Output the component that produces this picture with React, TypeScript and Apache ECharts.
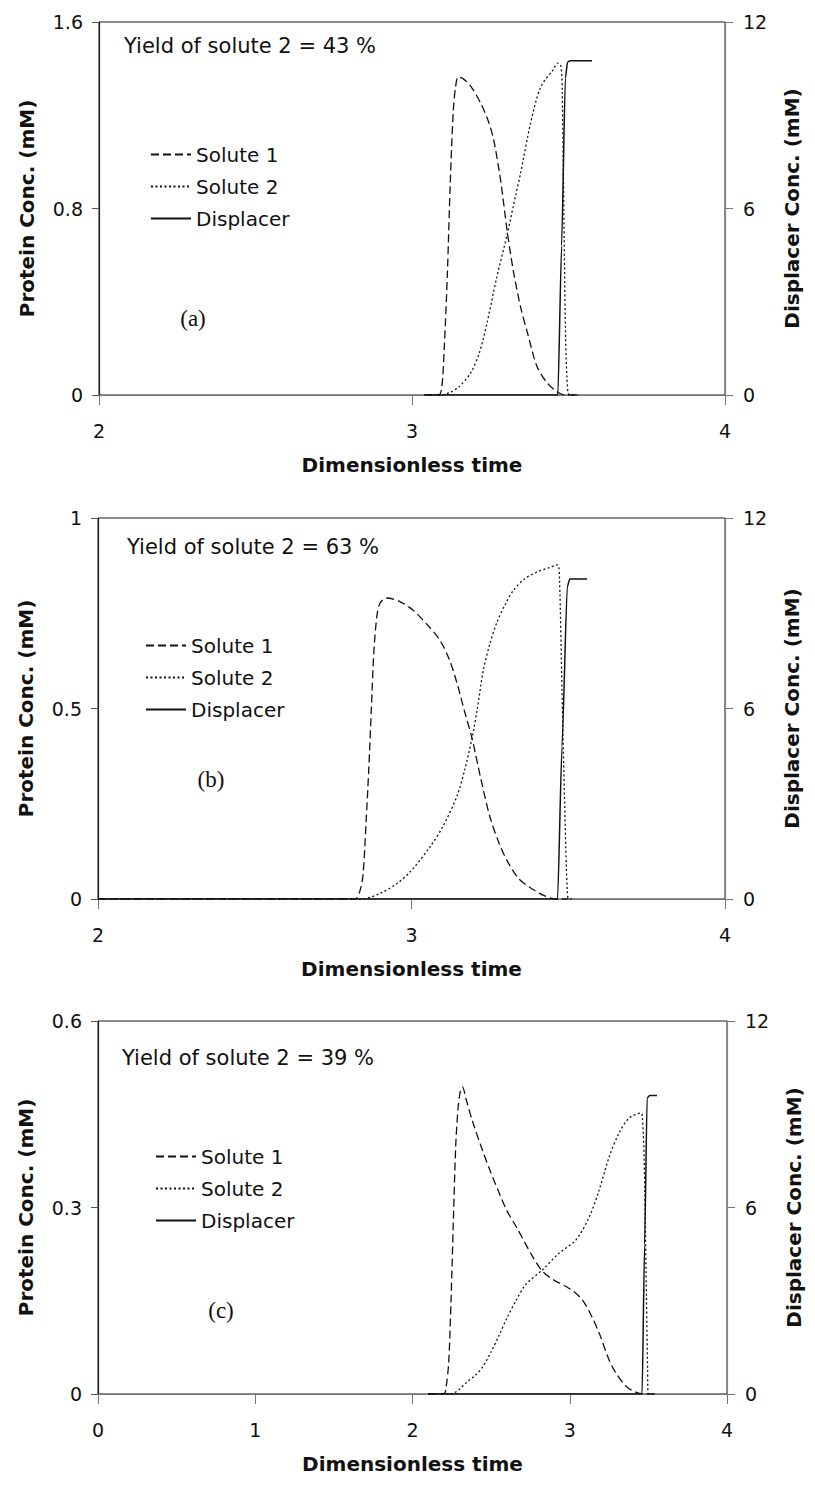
import React, { useEffect, useRef } from "react";
import * as echarts from "echarts";

// ---------- data ----------
const seriesNames = ["Solute 1", "Solute 2", "Displacer"];
const panelLabels = ["(a)", "(b)", "(c)"];
const yieldTexts = [
  "Yield of solute 2 = 43 %",
  "Yield of solute 2 = 63 %",
  "Yield of solute 2 = 39 %",
];
const xMins = [2, 2, 0];
const xMaxs = [4, 4, 4];
const xInterval = 1;
const proteinMaxs = [1.6, 1, 0.6];
const proteinIntervals = [0.8, 0.5, 0.3];
const displacerMax = 12;
const displacerInterval = 6;

// panel (a)  [dimensionless time, concentration]
const solute1A = [
  [3.04, 0], [3.085, 0], [3.095, 0.03], [3.103, 0.2], [3.113, 0.52], [3.122, 0.9],
  [3.132, 1.22], [3.14, 1.33], [3.148, 1.364], [3.165, 1.355], [3.19, 1.32],
  [3.22, 1.25], [3.245, 1.17], [3.261, 1.094], [3.283, 0.922], [3.305, 0.694],
  [3.325, 0.523], [3.347, 0.377], [3.369, 0.266], [3.4, 0.12], [3.433, 0.05],
  [3.466, 0.012], [3.49, 0], [3.53, 0],
];
const solute2A = [
  [3.04, 0], [3.09, 0], [3.12, 0.01], [3.15, 0.035], [3.187, 0.094], [3.215, 0.18],
  [3.24, 0.31], [3.27, 0.5], [3.305, 0.694], [3.33, 0.85], [3.347, 0.952],
  [3.379, 1.167], [3.411, 1.32], [3.45, 1.394], [3.466, 1.424], [3.476, 1.41],
  [3.48, 1.3], [3.485, 0.8], [3.49, 0.3], [3.495, 0.08], [3.503, 0], [3.53, 0],
];
const displacerA = [
  [3.04, 0], [3.466, 0], [3.478, 4.8], [3.49, 10.2], [3.497, 10.71], [3.505, 10.75],
  [3.575, 10.75],
];

// panel (b)
const solute1B = [
  [2.0, 0], [2.82, 0], [2.835, 0.02], [2.845, 0.06], [2.855, 0.2], [2.864, 0.346],
  [2.872, 0.5], [2.88, 0.65], [2.89, 0.745], [2.9, 0.777], [2.92, 0.79],
  [2.96, 0.782], [3.005, 0.758], [3.05, 0.72], [3.09, 0.68], [3.12, 0.63],
  [3.145, 0.567], [3.17, 0.49], [3.193, 0.422], [3.22, 0.32], [3.25, 0.216],
  [3.28, 0.145], [3.304, 0.102], [3.34, 0.055], [3.378, 0.03], [3.42, 0.01],
  [3.46, 0], [3.5, 0],
];
const solute2B = [
  [2.0, 0], [2.84, 0], [2.9, 0.015], [2.953, 0.04], [3.0, 0.075], [3.059, 0.137],
  [3.1, 0.19], [3.145, 0.27], [3.17, 0.34], [3.193, 0.422], [3.21, 0.5],
  [3.229, 0.6], [3.25, 0.67], [3.272, 0.725], [3.3, 0.775], [3.325, 0.81],
  [3.36, 0.84], [3.4, 0.858], [3.44, 0.87], [3.466, 0.877], [3.472, 0.84],
  [3.48, 0.55], [3.49, 0.2], [3.497, 0.02], [3.502, 0], [3.52, 0],
];
const displacerB = [
  [2.0, 0], [3.466, 0], [3.48, 4.8], [3.497, 9.84], [3.505, 10.08], [3.56, 10.08],
];

// panel (c)
const solute1C = [
  [2.1, 0], [2.2, 0], [2.213, 0.01], [2.23, 0.05], [2.245, 0.15], [2.26, 0.28],
  [2.275, 0.4], [2.29, 0.46], [2.305, 0.488], [2.318, 0.494], [2.34, 0.475],
  [2.38, 0.44], [2.445, 0.392], [2.5, 0.355], [2.552, 0.323], [2.6, 0.295],
  [2.66, 0.269], [2.764, 0.221], [2.828, 0.197], [2.9, 0.183], [2.976, 0.173],
  [3.03, 0.164], [3.081, 0.151], [3.13, 0.13], [3.187, 0.098], [3.25, 0.055],
  [3.293, 0.034], [3.36, 0.012], [3.42, 0.003], [3.47, 0], [3.55, 0],
];
const solute2C = [
  [2.1, 0], [2.25, 0], [2.267, 0.002], [2.3, 0.008], [2.35, 0.02], [2.4, 0.03],
  [2.445, 0.043], [2.5, 0.068], [2.552, 0.095], [2.6, 0.122], [2.66, 0.151],
  [2.72, 0.176], [2.828, 0.2], [2.93, 0.226], [3.04, 0.248], [3.124, 0.285],
  [3.187, 0.328], [3.25, 0.381], [3.314, 0.42], [3.378, 0.444], [3.454, 0.452],
  [3.462, 0.445], [3.473, 0.38], [3.485, 0.2], [3.495, 0.04], [3.5, 0], [3.55, 0],
];
const displacerC = [
  [2.1, 0], [3.46, 0], [3.476, 4.8], [3.492, 9.52], [3.507, 9.6], [3.555, 9.6],
];

const solute1Sets = [solute1A, solute1B, solute1C];
const solute2Sets = [solute2A, solute2B, solute2C];
const displacerSets = [displacerA, displacerB, displacerC];

// ---------- layout ----------
const FONT = "DejaVu Sans";
const grids = [
  { left: 99, top: 22, width: 626, height: 373 },
  { left: 98, top: 518, width: 627, height: 381 },
  { left: 98, top: 1021, width: 629, height: 373 },
];
const legendPos = [
  { left: 150, top: 144 },
  { left: 145, top: 635 },
  { left: 155, top: 1146 },
];
const yieldPos = [
  { x: 124, y: 46 },
  { x: 127, y: 547 },
  { x: 122, y: 1058 },
];
const labelPos = [
  { x: 193, y: 318 },
  { x: 211, y: 779 },
  { x: 221, y: 1310 },
];

function buildOption() {
  const grid = grids.map((g) => ({
    ...g,
    show: true,
    borderColor: "#1a1a1a",
    borderWidth: 1,
    backgroundColor: "transparent",
  }));

  const titleStyle = { fontFamily: FONT, fontSize: 20, fontWeight: "bold", color: "#111" };

  const xAxis = grids.map((_, i) => ({
    type: "value",
    gridIndex: i,
    min: xMins[i],
    max: xMaxs[i],
    interval: xInterval,
    name: "Dimensionless time",
    nameLocation: "middle",
    nameGap: 60,
    nameTextStyle: titleStyle,
    axisLine: { show: true, onZero: false, lineStyle: { color: "#777", width: 1.2 } },
    axisTick: { show: true, inside: false, length: 10, lineStyle: { color: "#777", width: 1 } },
    axisLabel: { margin: 26, fontFamily: FONT, fontSize: 19, color: "#111" },
    splitLine: { show: false },
  }));

  const yAxis: any[] = [];
  grids.forEach((_, i) => {
    yAxis.push({
      type: "value",
      gridIndex: i,
      position: "left",
      min: 0,
      max: proteinMaxs[i],
      interval: proteinIntervals[i],
      name: "Protein Conc. (mM)",
      nameLocation: "middle",
      nameGap: 62,
      nameTextStyle: titleStyle,
      axisLine: { show: true, onZero: false, lineStyle: { color: "#222", width: 1.2 } },
      axisTick: { show: true, inside: false, length: 7, lineStyle: { color: "#555" } },
      axisLabel: { margin: 16, fontFamily: FONT, fontSize: 19, color: "#111" },
      splitLine: { show: false },
    });
    yAxis.push({
      type: "value",
      gridIndex: i,
      position: "right",
      min: 0,
      max: displacerMax,
      interval: displacerInterval,
      name: "Displacer Conc. (mM)",
      nameLocation: "middle",
      nameGap: 57,
      nameRotate: 90,
      nameTextStyle: titleStyle,
      axisLine: { show: true, onZero: false, lineStyle: { color: "#888", width: 1.2 } },
      axisTick: { show: true, inside: false, length: 8, lineStyle: { color: "#777" } },
      axisLabel: { margin: 18, fontFamily: FONT, fontSize: 19, color: "#111" },
      splitLine: { show: false },
    });
  });

  const series: any[] = [];
  grids.forEach((_, i) => {
    series.push({
      name: seriesNames[0],
      type: "line",
      xAxisIndex: i,
      yAxisIndex: 2 * i,
      data: solute1Sets[i],
      symbol: "none",
      smooth: 0.3,
      lineStyle: { color: "#111", width: 1.3, type: [8, 4] },
      itemStyle: { color: "#111" },
    });
    series.push({
      name: seriesNames[1],
      type: "line",
      xAxisIndex: i,
      yAxisIndex: 2 * i,
      data: solute2Sets[i],
      symbol: "none",
      smooth: 0.3,
      lineStyle: { color: "#111", width: 1.3, type: [2, 2.5] },
      itemStyle: { color: "#111" },
    });
    series.push({
      name: seriesNames[2],
      type: "line",
      xAxisIndex: i,
      yAxisIndex: 2 * i + 1,
      data: displacerSets[i],
      symbol: "none",
      smooth: 0.2,
      smoothMonotone: "x",
      lineStyle: { color: "#111", width: 1.5, type: "solid" },
      itemStyle: { color: "#111" },
    });
  });

  const legend = legendPos.map((p) => ({
    ...p,
    orient: "vertical",
    data: seriesNames,
    padding: 0,
    itemGap: 11,
    itemWidth: 40,
    itemHeight: 1,
    selectedMode: false,
    itemStyle: { opacity: 0 },
    textStyle: { fontFamily: FONT, fontSize: 20, color: "#111", lineHeight: 21 },
  }));

  const graphic: any[] = [];
  yieldTexts.forEach((t, i) => {
    graphic.push({
      type: "text",
      x: yieldPos[i].x,
      y: yieldPos[i].y,
      style: {
        text: t,
        fontFamily: FONT,
        fontSize: 21,
        fill: "#111",
        verticalAlign: "middle",
        align: "left",
      },
    });
    graphic.push({
      type: "text",
      x: labelPos[i].x,
      y: labelPos[i].y,
      style: {
        text: panelLabels[i],
        fontFamily: "Liberation Serif",
        fontSize: 23,
        fill: "#111",
        verticalAlign: "middle",
        align: "center",
      },
    });
  });

  return {
    animation: false,
    backgroundColor: "#fff",
    grid,
    xAxis,
    yAxis,
    series,
    legend,
    graphic,
  };
}

export default function App() {
  const ref = useRef<HTMLDivElement>(null);
  useEffect(() => {
    if (!ref.current) return;
    const chart = echarts.init(ref.current, null, { renderer: "svg" });
    chart.setOption(buildOption() as any);
    return () => chart.dispose();
  }, []);
  return (
    <div
      ref={ref}
      style={{ position: "absolute", left: 0, top: 0, width: 815, height: 1489, background: "#fff" }}
    />
  );
}
